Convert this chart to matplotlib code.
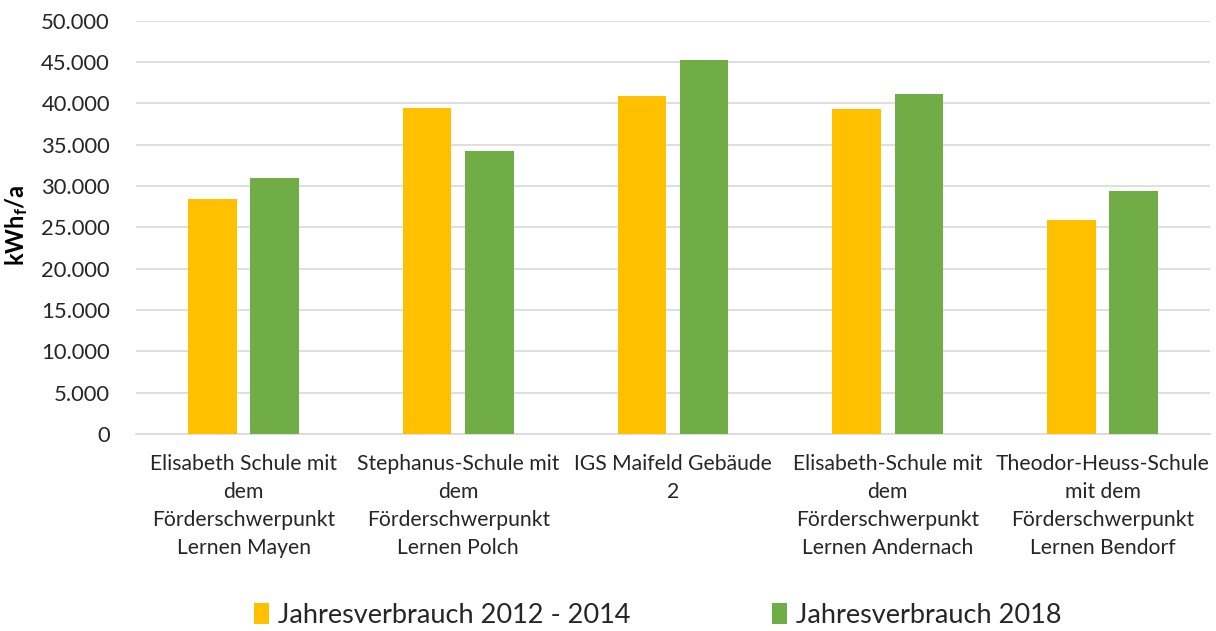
import matplotlib.pyplot as plt
import numpy as np
from matplotlib.ticker import FuncFormatter

# Daten (kWh_f/a)
schulen = [
    "Elisabeth Schule mit\ndem\nFörderschwerpunkt\nLernen Mayen",
    "Stephanus-Schule mit\ndem\nFörderschwerpunkt\nLernen Polch",
    "IGS Maifeld Gebäude\n2",
    "Elisabeth-Schule mit\ndem\nFörderschwerpunkt\nLernen Andernach",
    "Theodor-Heuss-Schule\nmit dem\nFörderschwerpunkt\nLernen Bendorf",
]
verbrauch_2012_2014 = [28500, 39500, 40900, 39300, 25900]
verbrauch_2018 = [31000, 34300, 45300, 41200, 29450]
serien = ["Jahresverbrauch 2012 - 2014", "Jahresverbrauch 2018"]

plt.rcParams["font.family"] = ["Lato", "DejaVu Sans"]
plt.rcParams["mathtext.fontset"] = "custom"
plt.rcParams["mathtext.bf"] = "Lato:bold"
plt.rcParams["mathtext.rm"] = "Lato"

fig = plt.figure(figsize=(12.16, 6.31), dpi=100)
ax = fig.add_axes([0.112, 0.312, 0.883, 0.655])

x = np.arange(len(schulen))
w = 0.226
off = 0.145
ax.bar(x - off, verbrauch_2012_2014, w, color="#FFC000", label=serien[0], zorder=3)
ax.bar(x + off, verbrauch_2018, w, color="#70AD47", label=serien[1], zorder=3)

ax.set_xlim(-0.5, 4.5)
ax.set_ylim(0, 50000)
ax.set_yticks(np.arange(0, 50001, 5000))
ax.yaxis.set_major_formatter(FuncFormatter(lambda v, p: f"{int(v):,}".replace(",", ".")))
ax.grid(axis="y", color="#D9D9D9", linewidth=1.2, zorder=0)
ax.set_axisbelow(True)

for s in ["top", "right", "left"]:
    ax.spines[s].set_visible(False)
ax.spines["bottom"].set_color("#D9D9D9")
ax.spines["bottom"].set_linewidth(1.2)

ax.set_xticks(x)
ax.set_xticklabels(schulen, fontsize=15.2, color="#262626", linespacing=1.5)
ax.tick_params(axis="x", length=0, pad=14)
ax.tick_params(axis="y", length=0, labelsize=15.8, labelcolor="#262626", pad=19)

ax.set_ylabel(r"kWh$\mathbf{_f}$/a", fontsize=17, fontweight="bold")
ax.yaxis.set_label_coords(-0.099, 0.506)

fig.legend(loc="lower center", bbox_to_anchor=(0.541, -0.034), ncol=2, frameon=False,
           fontsize=19.5, handlelength=0.55, handleheight=0.8, handletextpad=0.35,
           columnspacing=5.2, labelcolor="#262626")

fig.savefig("out.png", dpi=100)
